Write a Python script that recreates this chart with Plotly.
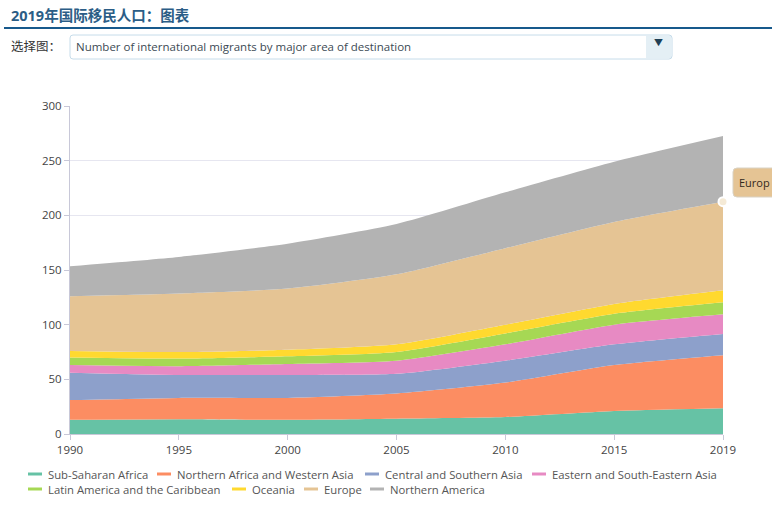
import plotly.graph_objects as go

years = ["1990", "1995", "2000", "2005", "2010", "2015", "2019"]
names = ["Sub-Saharan Africa", "Northern Africa and Western Asia", "Central and Southern Asia",
         "Eastern and South-Eastern Asia", "Latin America and the Caribbean", "Oceania",
         "Europe", "Northern America"]
sub_saharan = [13, 13.5, 13, 14, 15.5, 21, 23.5]
north_africa = [18, 19.5, 20, 23, 31.5, 42, 48.5]
central_asia = [25, 21, 21, 18, 20, 19, 19.5]
east_asia = [7, 8, 10, 12, 15, 18, 18]
latin_america = [7, 7, 7, 8, 10, 10, 11]
oceania = [6, 6, 6, 7, 8, 9, 11]
europe = [50, 53.5, 56, 64, 70, 75, 81]
north_america = [27.5, 33.5, 41, 46, 51, 55, 60]
series = [sub_saharan, north_africa, central_asia, east_asia, latin_america, oceania, europe, north_america]
colors = ["#66c2a5", "#fc8d62", "#8da0cb", "#e78ac3", "#a6d854", "#ffd92f", "#e5c494", "#b3b3b3"]

W, H = 772, 506
L, R, T, B = 70, 49, 106, 72
FONT = "Open Sans, Noto Sans CJK SC"


# page pixels to paper coordinates, for the things around the plot
def px(x):
    return (x - L) / (W - L - R)


def py(y):
    return (H - B - y) / (H - T - B)


fig = go.Figure()
for name, vals, col in zip(names, series, colors):
    fig.add_trace(go.Scatter(x=years, y=vals, name=name, mode="lines", stackgroup="one",
                             line=dict(color=col, width=0, shape="spline", smoothing=0.6),
                             fillcolor=col, showlegend=False, hoverinfo="skip"))

# hovered point on top of Europe
europe_top = sum(s[-1] for s in series[:7])
fig.add_trace(go.Scatter(x=[years[-1]], y=[europe_top], mode="markers", showlegend=False, cliponaxis=False,
                         marker=dict(size=9, color="#f5ead6", line=dict(color="white", width=2)),
                         hoverinfo="skip"))

shapes = []
notes = []


def rect(x0, y0, x1, y1, fill, line="rgba(0,0,0,0)", width=1):
    shapes.append(dict(type="rect", xref="paper", yref="paper", x0=px(x0), x1=px(x1), y0=py(y0), y1=py(y1),
                       fillcolor=fill, line=dict(color=line, width=width), layer="above"))


def round_rect(x0, y0, x1, y1, r, fill, line):
    # svg path needs pixels turned into paper units corner by corner
    pts = [("M", x0 + r, y0), ("L", x1 - r, y0), ("Q", x1, y0, x1, y0 + r), ("L", x1, y1 - r),
           ("Q", x1, y1, x1 - r, y1), ("L", x0 + r, y1), ("Q", x0, y1, x0, y1 - r), ("L", x0, y0 + r),
           ("Q", x0, y0, x0 + r, y0)]
    path = ""
    for p in pts:
        coords = [str(px(v)) if i % 2 == 0 else str(py(v)) for i, v in enumerate(p[1:])]
        path += p[0] + " " + " ".join(coords) + " "
    shapes.append(dict(type="path", xref="paper", yref="paper", path=path + "Z", fillcolor=fill,
                       line=dict(color=line, width=1), layer="above"))


def text(x, y, s, size=11, color="#444", anchor="left", bold=False):
    if bold:
        s = "<b>" + s + "</b>"
    notes.append(dict(xref="paper", yref="paper", x=px(x), y=py(y), text=s, showarrow=False, xanchor=anchor,
                      yanchor="middle", align="left", borderpad=0, borderwidth=0,
                      font=dict(family=FONT, size=size, color=color)))


# header
text(11, 15, "2019年国际移民人口：图表", size=14.5, color="#2b5d86", bold=True)
rect(4, 27, 772, 29, "#17598c")
text(11, 46, "选择图：", size=12.5, color="#333")
round_rect(70, 35, 672, 59, 3, "white", "#c6dcea")
rect(646, 36, 671, 58, "#e4eff5")
text(658, 42, "▼", size=9, color="#1f3f55", anchor="center")
text(76, 46, "Number of international migrants by major area of destination", size=11.5, color="#3c4a54")

# tooltip, runs off the page in the screenshot so only this much of its label shows
round_rect(733, 168, 800, 197, 4, "#e5c494", "#d9d2c4")
text(739, 182, "Europ", size=11, color="#33291c")

# legend
rows = [(474, [(28, 48), (157, 177), (365, 385), (532, 552)]),
        (489, [(28, 48), (232, 252), (304, 324), (370, 390)])]
k = 0
for y, items in rows:
    for sx, tx in items:
        rect(sx, y - 1.5, sx + 14, y + 1.5, colors[k])
        text(tx, y, names[k], size=11.3, color="#555")
        k += 1

fig.update_layout(
    width=W, height=H, margin=dict(l=L, r=R, t=T, b=B), paper_bgcolor="white", plot_bgcolor="white",
    font=dict(family=FONT, size=11.5, color="#444"), showlegend=False, shapes=shapes, annotations=notes,
    xaxis=dict(type="category", range=[0, 6], showgrid=False, ticks="outside", ticklen=5, tickcolor="#c8c8d8",
               showline=True, linecolor="#c8c8d8", tickfont=dict(size=11.5)),
    yaxis=dict(range=[0, 300], tickvals=[0, 50, 100, 150, 200, 250, 300], gridcolor="#e6e6f0", ticks="outside",
               ticklen=5, tickcolor="#c8c8d8", showline=True, linecolor="#c8c8d8", zeroline=False,
               tickfont=dict(size=11.5)),
)

# drop the browser's default body margin so page pixels line up
fig.write_html("out.html", config=dict(displayModeBar=False), post_script="document.body.style.margin='0';")
